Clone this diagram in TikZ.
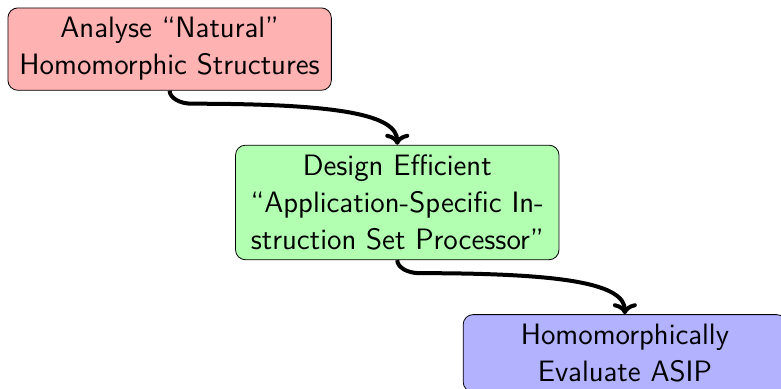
\documentclass[tikz,border=0pt]{standalone}
\usetikzlibrary{positioning,arrows.meta}

\begin{document}
\begin{tikzpicture}[node distance=0.95cm]
  \tikzset{stage/.style={draw, rounded corners=5pt, font=\fontsize{14.75}{18.5}\selectfont\sffamily,
                         text width=5.45cm, inner ysep=4.8pt, align=center},
           flow/.style={-{To[width=12pt,length=5.5pt]}, line width=2pt},
           elbow/.style={to path={(\tikztostart) .. controls +(0,-3.5pt) and +(-6pt,0) .. ++(11pt,-6.5pt)
                                  .. controls +(74pt,0) and +(0,15pt) .. (\tikztotarget)}}}
  \useasboundingbox (-3.75pt,3.75pt) rectangle ++(390.5pt,-194pt);
  \node[stage, fill=red!30, anchor=north west] (analyse) at (0, 0) {Analyse ``Natural''\\Homomorphic Structures};
  \node[stage, fill=green!30, below=of analyse, xshift=4cm] (design) {Design Efficient\\``Application-Specific In-\\struction Set Processor''};
  \node[stage, fill=blue!30, below=of design, xshift=4cm] (evaluate) {Homomorphically\\Evaluate ASIP};
  \draw[flow] (analyse.south) to[elbow] (design.north);
  \draw[flow] (design.south) to[elbow] (evaluate.north);
\end{tikzpicture}
\end{document}
